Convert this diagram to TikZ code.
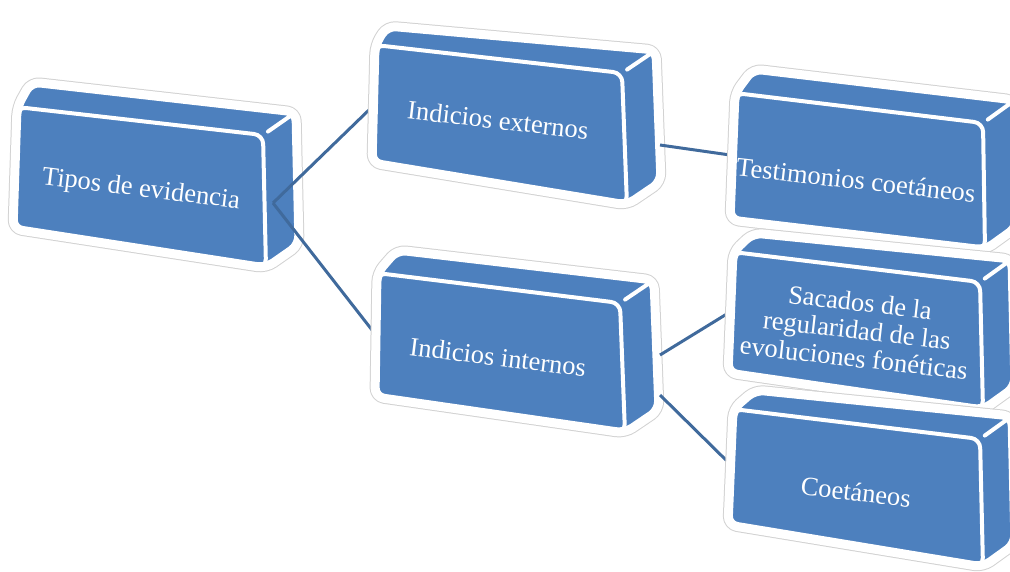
\documentclass[tikz,border=0pt]{standalone}
\usepackage{fontspec}
\setmainfont{Liberation Serif}
\usetikzlibrary{calc}
\definecolor{blockblue}{RGB}{77,128,190}
\definecolor{linkblue}{RGB}{64,106,156}
\definecolor{haloGray}{RGB}{210,210,210}
\tikzset{
  halo/.style={draw=haloGray, line width=11pt, rounded corners=9pt, line join=round},
  whitehalo/.style={draw=white, fill=blockblue, line width=9pt, rounded corners=9pt, line join=round},
  faceedge/.style={draw=white, line width=4pt, rounded corners=9pt, line join=round},
  ridge/.style={draw=white, line width=4pt, line cap=round},
  lbl/.style={text=white, font=\fontsize{26.5}{28}\selectfont, align=center, inner sep=0pt},
  link/.style={draw=linkblue, line width=3pt}
}
\newcommand{\blockbox}[7]{%
  \coordinate (#1-tl) at (#2);
  \coordinate (#1-tr) at (#3);
  \coordinate (#1-br) at (#4);
  \coordinate (#1-bl) at (#5);
  \coordinate (#1-btl) at ($(#1-tl)+(#6)$);
  \coordinate (#1-btr) at ($(#1-tr)+(#7)$);
  \coordinate (#1-bbr) at ($(#1-br)+(#7)$);
  \draw[halo] (#1-tl) -- (#1-btl) -- (#1-btr) -- (#1-bbr) -- (#1-br) -- (#1-bl) -- cycle;
  \draw[whitehalo] (#1-tl) -- (#1-btl) -- (#1-btr) -- (#1-bbr) -- (#1-br) -- (#1-bl) -- cycle;
  \draw[faceedge] (#1-tl) -- (#1-tr) -- (#1-br) -- (#1-bl) -- cycle;
  \draw[ridge] ($(#1-tr)!0.15!(#1-btr)$) -- ($(#1-tr)!0.85!(#1-btr)$);
}
\begin{document}
\begin{tikzpicture}[x=1pt,y=-1pt]
\useasboundingbox (0,0) rectangle (1010,571);
\begin{scope}
\clip (0,0) rectangle (1010,571);
% Box 1
\blockbox{b1}{17,107}{263,135}{266,268}{13,229}{14,-25}{33,-23}
\node[lbl, rotate=-7] (t1) at (141,190) {Tipos de evidencia};
\coordinate (p1) at (273,203);
\coordinate (p2u) at (372,107);
\coordinate (p2r) at (660,145);
\coordinate (p3l) at (372,330);
\coordinate (p3a) at (660,355);
\coordinate (p3b) at (660,395);
\coordinate (p4l) at (730,155);
\coordinate (p5l) at (730,312);
\coordinate (p6l) at (730,464);
\draw[link] (p1) -- (p2u);
\draw[link] (p1) -- (p3l);
% Box 2
\blockbox{b2}{375,45}{622,73}{627,205}{372,163}{12,-19}{34,-23}
\node[lbl, rotate=-6.5] (t2) at (498,120) {Indicios externos};
% Box 3
\blockbox{b3}{377,273}{620,303}{625,433}{375,397}{20,-23}{34,-23}
\node[lbl, rotate=-7] (t3) at (498,357) {Indicios internos};
\draw[link] (p2r) -- (p4l);
\draw[link] (p3a) -- (p5l);
\draw[link] (p3b) -- (p6l);
% Box 4
\blockbox{b4}{735,93}{983,123}{985,250}{730,220}{18,-24}{32,-23}
\node[lbl, rotate=-6.5] (t4) at (856,180) {Testimonios coetáneos};
% Box 5
\blockbox{b5}{733,252}{980,282}{983,410}{728,373}{20,-19}{32,-23}
\node[lbl, rotate=-6.5] (t5) at (857,330) {Sacados de la\\regularidad de las\\evoluciones fonéticas};
% Box 6
\blockbox{b6}{733,409}{980,439}{983,567}{728,525}{22,-19}{32,-23}
\node[lbl, rotate=-6.5] (t6) at (856,492) {Coetáneos};
\end{scope}
\end{tikzpicture}
\end{document}
